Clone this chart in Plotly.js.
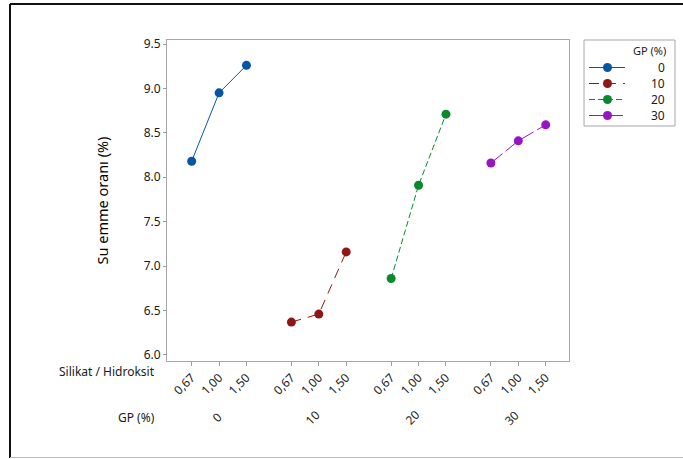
<!DOCTYPE html>
<html>
<head>
<meta charset="utf-8">
<script src="https://cdn.plot.ly/plotly-3.0.1.min.js"></script>
<style>html,body{margin:0;padding:0;background:#fff;}#chart{width:683px;height:459px;}</style>
</head>
<body>
<div id="chart"></div>
<script>
// ---- data ----
const ratioLabels = ['0,67', '1,00', '1,50'];      // Silikat / Hidroksit
const gpLabels = ['0', '10', '20', '30'];           // GP (%)
const gp0 = [8.18, 8.95, 9.26];
const gp10 = [6.37, 6.46, 7.16];
const gp20 = [6.86, 7.91, 8.71];
const gp30 = [8.16, 8.41, 8.59];
const seriesValues = [gp0, gp10, gp20, gp30];
const yTickVals = [6.0, 6.5, 7.0, 7.5, 8.0, 8.5, 9.0, 9.5];

// ---- styling / layout ----
const colors = ['#0656A8', '#901616', '#08892B', '#9617C2'];
const dashes = ['solid', '10px,7px', '6px,3px', '15px,4px'];
const GROUP_STEP = 3.64;
const W = 683, H = 459;
const M = {l: 167, r: 114, t: 40, b: 98};
const PW = W - M.l - M.r, PH = H - M.t - M.b;
const px = x => (x - M.l) / PW;
const py = y => (H - M.b - y) / PH;
const FONT = 'Noto Sans, DejaVu Sans, sans-serif';

const pos = (g, i) => g * GROUP_STEP + i;

const traces = seriesValues.map((vals, g) => ({
  type: 'scatter',
  mode: 'lines+markers',
  x: vals.map((v, i) => pos(g, i)),
  y: vals,
  name: gpLabels[g],
  line: {color: colors[g], width: 1, dash: dashes[g]},
  marker: {color: colors[g], size: 9, symbol: 'circle'},
  showlegend: false,
  hoverinfo: 'x+y'
}));

const tickvals = [], ticktext = [];
gpLabels.forEach((gl, g) => ratioLabels.forEach((rl, i) => { tickvals.push(pos(g, i)); ticktext.push(rl); }));

const annotations = [];
const shapes = [];

// group labels
gpLabels.forEach((gl, g) => {
  annotations.push({
    xref: 'x', yref: 'paper', x: pos(g, 1), y: py(418),
    text: gl, showarrow: false, textangle: -45,
    xanchor: 'center', yanchor: 'middle', xshift: gl.length === 1 ? -2 : -6,
    font: {family: FONT, size: 12, color: '#1a1a1a'}
  });
});
annotations.push({
  xref: 'paper', yref: 'paper', x: px(157), y: py(372), text: 'Silikat / Hidroksit',
  showarrow: false, xanchor: 'right', yanchor: 'middle',
  font: {family: FONT, size: 12, color: '#1a1a1a'}
});
annotations.push({
  xref: 'paper', yref: 'paper', x: px(157), y: py(418), text: 'GP (%)',
  showarrow: false, xanchor: 'right', yanchor: 'middle',
  font: {family: FONT, size: 12, color: '#1a1a1a'}
});

// custom legend
shapes.push({type: 'rect', xref: 'paper', yref: 'paper', x0: px(584), x1: px(675), y0: py(40), y1: py(126),
  line: {color: '#a6a6a6', width: 1}, fillcolor: 'rgba(0,0,0,0)'});
annotations.push({xref: 'paper', yref: 'paper', x: px(668), y: py(50), text: 'GP (%)', showarrow: false,
  xanchor: 'right', yanchor: 'middle', font: {family: FONT, size: 11, color: '#1a1a1a'}});
gpLabels.forEach((gl, g) => {
  const yy = 67.5 + g * 16;
  shapes.push({type: 'line', xref: 'paper', yref: 'paper', x0: px(589), x1: px(625), y0: py(yy), y1: py(yy),
    line: {color: colors[g], width: 1.2, dash: dashes[g]}});
  shapes.push({type: 'circle', xref: 'paper', yref: 'paper', xsizemode: 'pixel', ysizemode: 'pixel',
    xanchor: px(607.5), yanchor: py(yy), x0: -4.5, x1: 4.5, y0: -4.5, y1: 4.5,
    fillcolor: colors[g], line: {color: colors[g], width: 0}});
  annotations.push({xref: 'paper', yref: 'paper', x: px(667), y: py(yy), text: gl, showarrow: false,
    xanchor: 'right', yanchor: 'middle', font: {family: FONT, size: 12, color: '#1a1a1a'}});
});

// outer frame (cropped screenshot border)
shapes.push({type: 'line', xref: 'paper', yref: 'paper', x0: px(10), x1: px(690), y0: py(4), y1: py(4), line: {color: '#111', width: 2}});
shapes.push({type: 'line', xref: 'paper', yref: 'paper', x0: px(10), x1: px(10), y0: py(4), y1: py(458), line: {color: '#111', width: 2}});
shapes.push({type: 'line', xref: 'paper', yref: 'paper', x0: px(10), x1: px(690), y0: py(457.5), y1: py(457.5), line: {color: '#bdbdbd', width: 1}});

const layout = {
  width: W, height: H,
  margin: M,
  paper_bgcolor: '#fff', plot_bgcolor: '#fff',
  showlegend: false,
  font: {family: FONT, size: 12, color: '#1a1a1a'},
  xaxis: {
    range: [-0.90, 13.77], tickmode: 'array', tickvals: tickvals, ticktext: ticktext,
    tickangle: -45, ticks: 'outside', ticklen: 4, tickcolor: '#9a9a9a',
    showgrid: false, zeroline: false, showline: true, linecolor: '#a6a6a6', linewidth: 1, mirror: true,
    tickfont: {family: FONT, size: 12, color: '#1a1a1a'}
  },
  yaxis: {
    range: [5.932, 9.545], tickmode: 'array', tickvals: yTickVals, tickformat: '.1f',
    ticks: 'outside', ticklen: 3, tickcolor: '#9a9a9a',
    showgrid: false, zeroline: false, showline: true, linecolor: '#a6a6a6', linewidth: 1, mirror: true,
    tickfont: {family: FONT, size: 12, color: '#1a1a1a'},
    title: {text: 'Su emme oranı (%)', font: {family: FONT, size: 14.5, color: '#000'}, standoff: 31}
  },
  annotations: annotations,
  shapes: shapes
};

Plotly.newPlot('chart', traces, layout, {staticPlot: true, displayModeBar: false});
</script>
</body>
</html>
